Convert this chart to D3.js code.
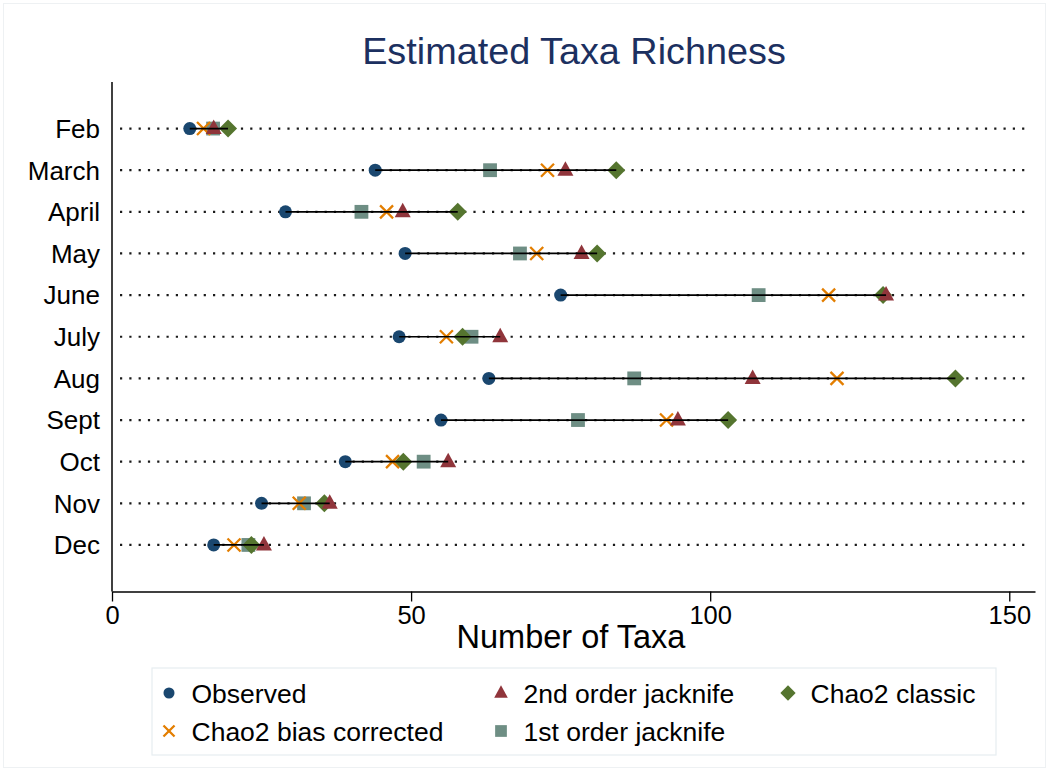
<!DOCTYPE html>
<html>
<head>
<meta charset="utf-8">
<script src="https://cdn.jsdelivr.net/npm/d3@7"></script>
<style>
  html, body { margin: 0; padding: 0; background: #fff; }
  svg { display: block; font-family: "Liberation Sans", Arial, Helvetica, sans-serif; }
</style>
</head>
<body>
<svg id="chart" width="1049" height="771"></svg>
<script>
// ---- Data ----
const months = ["Feb","March","April","May","June","July","Aug","Sept","Oct","Nov","Dec"];
const observed     = [13, 44, 29, 49, 75, 48, 63, 55, 39, 25, 17];
const jack2        = [17, 75.8, 48.6, 78.5, 129.4, 64.9, 107.1, 94.6, 56.2, 36.4, 25.4];
const chao2Classic = [19.4, 84.3, 57.8, 81.1, 128.9, 58.6, 141, 103, 48.7, 35.5, 23.3];
const chao2BC      = [15.3, 72.8, 45.9, 71, 119.8, 55.9, 121.2, 92.7, 46.9, 31.3, 20.4];
const jack1        = [16.9, 63.2, 41.7, 68.2, 108.1, 60.1, 87.3, 77.9, 52.1, 32.1, 22.8];
const xTicks = [0, 50, 100, 150];

const seriesNames = ["Observed", "2nd order jacknife", "Chao2 classic", "Chao2 bias corrected", "1st order jacknife"];

(function () {
// ---- Layout ----
const svg = d3.select("#chart");
const W = 1049, H = 771;
const pLeft = 112, pRight = 1035, pTop = 82, pBottom = 591.5;

const x = d3.scaleLinear().domain([0, 154.3]).range([pLeft, pRight]);
const y = d3.scalePoint().domain(months).range([pTop, pBottom]).padding(1.118);

const colors = {
  "Observed": "#1a476f",
  "2nd order jacknife": "#90353b",
  "Chao2 classic": "#55752f",
  "Chao2 bias corrected": "#e37e00",
  "1st order jacknife": "#6e8e84"
};

// faint outer frame
svg.append("rect").attr("x", 3.5).attr("y", 3.5).attr("width", W - 7).attr("height", H - 7)
  .attr("fill", "none").attr("stroke", "#eef1f3").attr("stroke-width", 1);

// Title
svg.append("text").attr("x", 574).attr("y", 64).attr("text-anchor", "middle")
  .attr("font-size", 37.8).attr("fill", "#1c3060").text("Estimated Taxa Richness");

// Dotted grid lines
svg.append("g").selectAll("line").data(months).join("line")
  .attr("x1", 120).attr("x2", 1030)
  .attr("y1", d => y(d)).attr("y2", d => y(d))
  .attr("stroke", "#1a1a1a").attr("stroke-width", 2.2)
  .attr("stroke-dasharray", "2.2 7.1");

// Y axis line + labels
svg.append("line").attr("x1", pLeft).attr("x2", pLeft).attr("y1", pTop).attr("y2", pBottom)
  .attr("stroke", "#000").attr("stroke-width", 1.5);
svg.append("g").selectAll("text").data(months).join("text")
  .attr("x", 100).attr("y", d => y(d)).attr("dy", "0.36em")
  .attr("text-anchor", "end").attr("font-size", 26).attr("fill", "#000")
  .text(d => d);

// X axis
const xAxis = svg.append("g").attr("transform", `translate(0,${pBottom})`)
  .call(d3.axisBottom(x).tickValues(xTicks).tickSize(10).tickSizeOuter(0).tickPadding(4));
xAxis.select(".domain").attr("stroke", "#000").attr("stroke-width", 1.5);
xAxis.selectAll(".tick line").attr("stroke", "#000").attr("stroke-width", 1.3);
xAxis.selectAll(".tick text").attr("font-size", 25.5).attr("fill", "#000")
  .attr("font-family", "Liberation Sans, Arial, sans-serif");

svg.append("text").attr("x", 571).attr("y", 648).attr("text-anchor", "middle")
  .attr("font-size", 32.5).attr("fill", "#000").text("Number of Taxa");

// ---- Marker drawers ----
function drawMarker(g, type, cx, cy, scale) {
  const s = scale || 1;
  if (type === "Observed") {
    g.append("circle").attr("cx", cx).attr("cy", cy).attr("r", 6.5 * s).attr("fill", colors[type]);
  } else if (type === "2nd order jacknife") {
    const w = 16 * s, h = 14.5 * s;
    g.append("path").attr("d", `M${cx},${cy - h * 0.62}L${cx + w / 2},${cy + h * 0.38}L${cx - w / 2},${cy + h * 0.38}Z`)
      .attr("fill", colors[type]);
  } else if (type === "Chao2 classic") {
    const r = 9 * s;
    g.append("path").attr("d", `M${cx},${cy - r}L${cx + r},${cy}L${cx},${cy + r}L${cx - r},${cy}Z`)
      .attr("fill", colors[type]);
  } else if (type === "Chao2 bias corrected") {
    const r = 6.5 * s;
    g.append("path").attr("d", `M${cx - r},${cy - r}L${cx + r},${cy + r}M${cx - r},${cy + r}L${cx + r},${cy - r}`)
      .attr("stroke", colors[type]).attr("stroke-width", 2.3).attr("fill", "none");
  } else if (type === "1st order jacknife") {
    const a = 13.8 * s;
    g.append("rect").attr("x", cx - a / 2).attr("y", cy - a / 2).attr("width", a).attr("height", a)
      .attr("fill", colors[type]);
  }
}

const seriesValues = {
  "Observed": observed,
  "2nd order jacknife": jack2,
  "Chao2 classic": chao2Classic,
  "Chao2 bias corrected": chao2BC,
  "1st order jacknife": jack1
};

// draw order
const drawOrder = ["1st order jacknife", "Chao2 bias corrected", "Chao2 classic", "2nd order jacknife", "Observed"];
const marks = svg.append("g");
drawOrder.forEach(name => {
  const g = marks.append("g");
  seriesValues[name].forEach((v, i) => drawMarker(g, name, x(v), y(months[i]), 1));
});

// Range lines (min to max) on top
const ranges = months.map((m, i) => {
  const vals = seriesNames.map(n => seriesValues[n][i]);
  return { m, lo: d3.min(vals), hi: d3.max(vals) };
});
svg.append("g").selectAll("line").data(ranges).join("line")
  .attr("x1", d => x(d.lo)).attr("x2", d => x(d.hi))
  .attr("y1", d => y(d.m)).attr("y2", d => y(d.m))
  .attr("stroke", "#000").attr("stroke-width", 1.7);

// ---- Legend ----
svg.append("rect").attr("x", 152).attr("y", 668).attr("width", 844).attr("height", 87)
  .attr("fill", "#fff").attr("stroke", "#e6edf1").attr("stroke-width", 1.2);

const legendItems = [
  { name: "Observed", mx: 169, row: 0 },
  { name: "2nd order jacknife", mx: 501, row: 0 },
  { name: "Chao2 classic", mx: 788, row: 0 },
  { name: "Chao2 bias corrected", mx: 169, row: 1 },
  { name: "1st order jacknife", mx: 501, row: 1 }
];
const rowY = [693, 731];
const lg = svg.append("g");
legendItems.forEach(it => {
  const cy = rowY[it.row];
  drawMarker(lg, it.name, it.mx, cy, 0.85);
  lg.append("text").attr("x", it.mx + 22.5).attr("y", cy).attr("dy", "0.36em")
    .attr("font-size", 26.5).attr("fill", "#000").text(it.name);
});
})();
</script>
</body>
</html>
